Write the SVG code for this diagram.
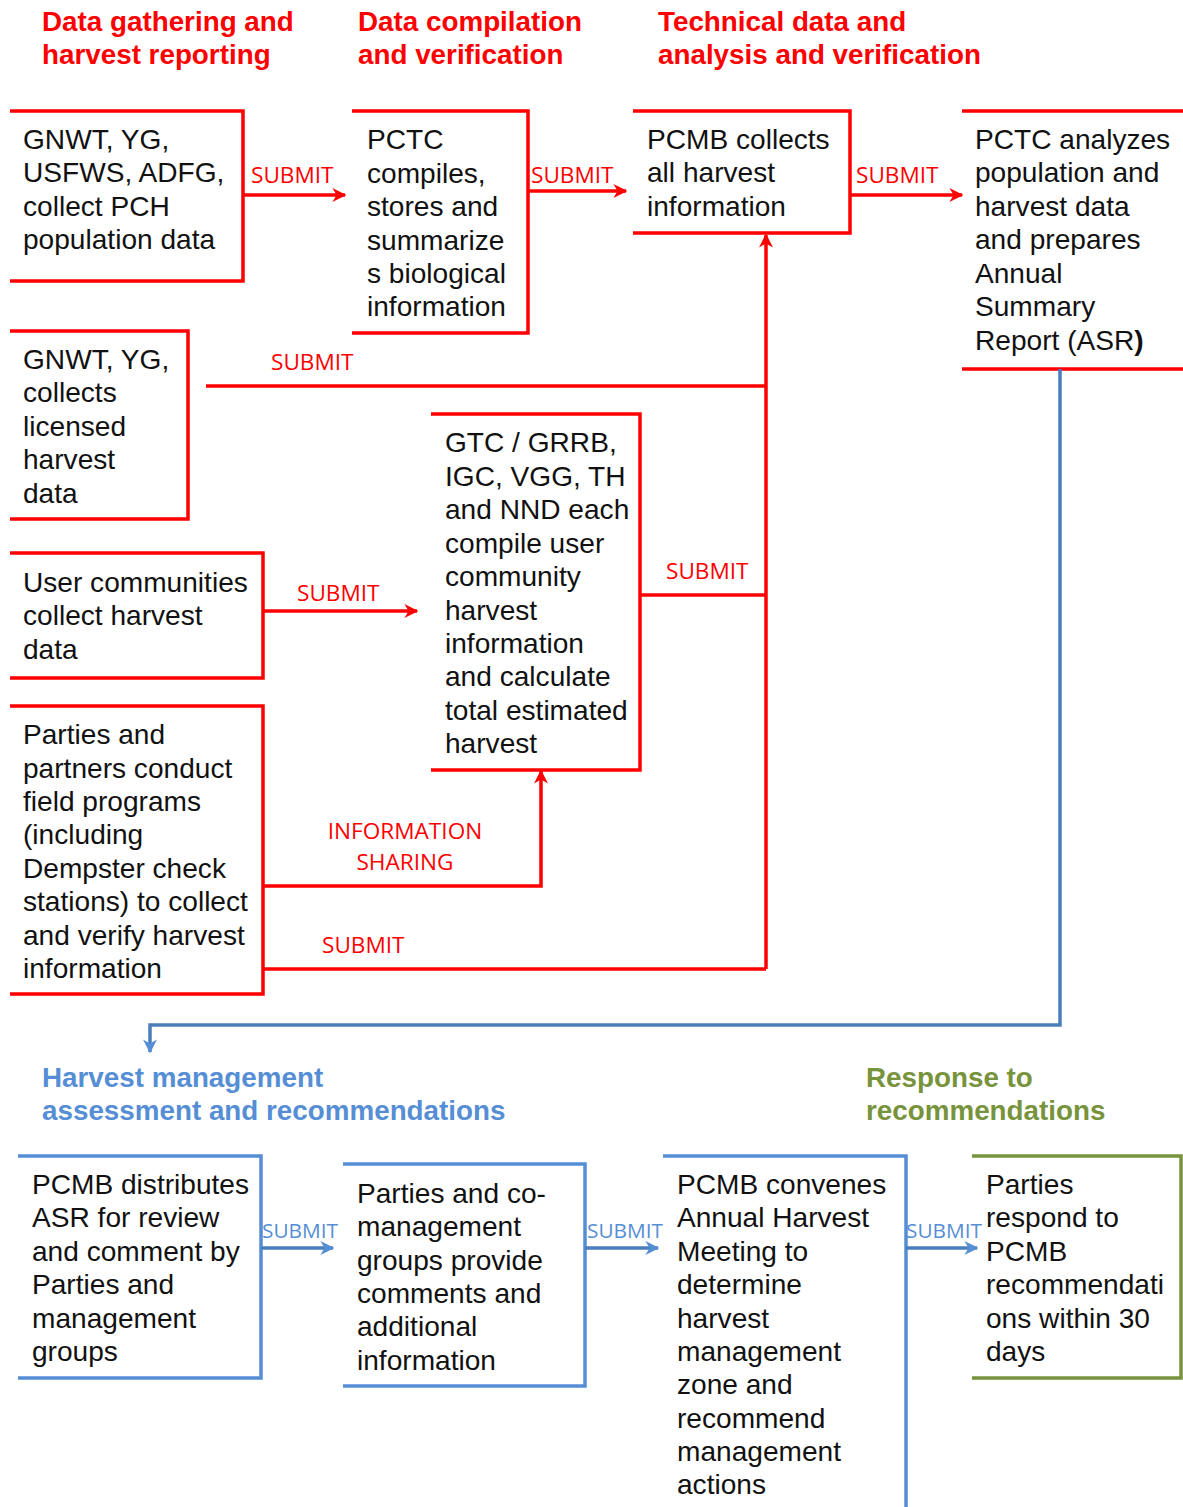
<svg xmlns="http://www.w3.org/2000/svg" width="1183" height="1507" viewBox="0 0 1183 1507">
<style>
.t{font-family:"Liberation Sans",Arial,sans-serif;font-size:28.1px;fill:#111}
.h{font-family:"Liberation Sans",Arial,sans-serif;font-size:27.8px;font-weight:bold}
.hr{fill:#ff0000}.hb{fill:#558ed5}.hg{fill:#77933c}
.rb{fill:none;stroke:#ff0000;stroke-width:3.5}
.bb{fill:none;stroke:#558ed5;stroke-width:3.5}
.gb{fill:none;stroke:#77933c;stroke-width:3.5}
.rc{fill:none;stroke:#ff0000;stroke-width:3.5}
.bc{fill:none;stroke:#4a7ebb;stroke-width:3.5}
.lr{font-family:"Open Sans","Liberation Sans",sans-serif;font-size:22.6px;fill:#ff0000}
.lb{font-family:"Open Sans","Liberation Sans",sans-serif;font-size:20.8px;fill:#558ed5}
</style>
<defs>
<marker id="ar" viewBox="0 0 10 10" refX="9" refY="5" markerWidth="4" markerHeight="4" orient="auto" markerUnits="strokeWidth"><path d="M0,0 L10,5 L0,10 L3,5 z" fill="#ff0000"/></marker>
<marker id="ab" viewBox="0 0 10 10" refX="9" refY="5" markerWidth="4" markerHeight="4" orient="auto" markerUnits="strokeWidth"><path d="M0,0 L10,5 L0,10 L3,5 z" fill="#558ed5"/></marker>
</defs>

<g id="headers">
<text class="h hr" x="42" y="31">Data gathering and</text>
<text class="h hr" x="42" y="64">harvest reporting</text>
<text class="h hr" x="358" y="31">Data compilation</text>
<text class="h hr" x="358" y="64">and verification</text>
<text class="h hr" x="658" y="31">Technical data and</text>
<text class="h hr" x="658" y="64">analysis and verification</text>
<text class="h hb" x="42" y="1087">Harvest management</text>
<text class="h hb" x="42" y="1120">assessment and recommendations</text>
<text class="h hg" x="866" y="1087">Response to</text>
<text class="h hg" x="866" y="1120">recommendations</text>
</g>

<g id="n1">
<path class="rb" d="M10,111 H243 V281 H10"/>
<text class="t" x="23" y="149">GNWT, YG,</text>
<text class="t" x="23" y="182">USFWS, ADFG,</text>
<text class="t" x="23" y="216">collect PCH</text>
<text class="t" x="23" y="249">population data</text>
</g>
<g id="n2">
<path class="rb" d="M352,111 H528 V333 H352"/>
<text class="t" x="367" y="149">PCTC</text>
<text class="t" x="367" y="183">compiles,</text>
<text class="t" x="367" y="216">stores and</text>
<text class="t" x="367" y="250">summarize</text>
<text class="t" x="367" y="283">s biological</text>
<text class="t" x="367" y="316">information</text>
</g>
<g id="n3">
<path class="rb" d="M633,111 H850 V233 H633"/>
<text class="t" x="647" y="149">PCMB collects</text>
<text class="t" x="647" y="182">all harvest</text>
<text class="t" x="647" y="216">information</text>
</g>
<g id="n4">
<path class="rb" d="M962,111 H1183 M1183,369 H962"/>
<text class="t" x="975" y="149">PCTC analyzes</text>
<text class="t" x="975" y="182">population and</text>
<text class="t" x="975" y="216">harvest data</text>
<text class="t" x="975" y="249">and prepares</text>
<text class="t" x="975" y="283">Annual</text>
<text class="t" x="975" y="316">Summary</text>
<text class="t" x="975" y="350">Report (ASR<tspan font-weight="bold">)</tspan></text>
</g>
<g id="n5">
<path class="rb" d="M10,331 H188 V519 H10"/>
<text class="t" x="23" y="369">GNWT, YG,</text>
<text class="t" x="23" y="402">collects</text>
<text class="t" x="23" y="436">licensed</text>
<text class="t" x="23" y="469">harvest</text>
<text class="t" x="23" y="503">data</text>
</g>
<g id="n6">
<path class="rb" d="M10,553 H263 V678 H10"/>
<text class="t" x="23" y="592">User communities</text>
<text class="t" x="23" y="625">collect harvest</text>
<text class="t" x="23" y="659">data</text>
</g>
<g id="n7">
<path class="rb" d="M431,414 H640 V770 H431"/>
<text class="t" x="445" y="452">GTC  / GRRB,</text>
<text class="t" x="445" y="486">IGC,  VGG, TH</text>
<text class="t" x="445" y="519">and NND each</text>
<text class="t" x="445" y="553">compile user</text>
<text class="t" x="445" y="586">community</text>
<text class="t" x="445" y="620">harvest</text>
<text class="t" x="445" y="653">information</text>
<text class="t" x="445" y="686">and calculate</text>
<text class="t" x="445" y="720">total estimated</text>
<text class="t" x="445" y="753">harvest</text>
</g>
<g id="n8">
<path class="rb" d="M10,706 H263 V994 H10"/>
<text class="t" x="23" y="744">Parties and</text>
<text class="t" x="23" y="778">partners conduct</text>
<text class="t" x="23" y="811">field programs</text>
<text class="t" x="23" y="844">(including</text>
<text class="t" x="23" y="878">Dempster check</text>
<text class="t" x="23" y="911">stations) to collect</text>
<text class="t" x="23" y="945">and verify  harvest</text>
<text class="t" x="23" y="978">information</text>
</g>

<g id="b1">
<path class="bb" d="M18,1156 H261 V1378 H18"/>
<text class="t" x="32" y="1194">PCMB distributes</text>
<text class="t" x="32" y="1227">ASR for review</text>
<text class="t" x="32" y="1261">and comment by</text>
<text class="t" x="32" y="1294">Parties and</text>
<text class="t" x="32" y="1328">management</text>
<text class="t" x="32" y="1361">groups</text>
</g>
<g id="b2">
<path class="bb" d="M343,1164 H585 V1386 H343"/>
<text class="t" x="357" y="1203">Parties and co-</text>
<text class="t" x="357" y="1236">management</text>
<text class="t" x="357" y="1270">groups provide</text>
<text class="t" x="357" y="1303">comments and</text>
<text class="t" x="357" y="1336">additional</text>
<text class="t" x="357" y="1370">information</text>
</g>
<g id="b3">
<path class="bb" d="M663,1156 H906 V1507"/>
<text class="t" x="677" y="1194">PCMB convenes</text>
<text class="t" x="677" y="1227">Annual Harvest</text>
<text class="t" x="677" y="1261">Meeting to</text>
<text class="t" x="677" y="1294">determine</text>
<text class="t" x="677" y="1328">harvest</text>
<text class="t" x="677" y="1361">management</text>
<text class="t" x="677" y="1394">zone and</text>
<text class="t" x="677" y="1428">recommend</text>
<text class="t" x="677" y="1461">management</text>
<text class="t" x="677" y="1494">actions</text>
</g>
<g id="b4">
<path class="gb" d="M972,1156 H1181 V1378 H972"/>
<text class="t" x="986" y="1194">Parties</text>
<text class="t" x="986" y="1227">respond to</text>
<text class="t" x="986" y="1261">PCMB</text>
<text class="t" x="986" y="1294">recommendati</text>
<text class="t" x="986" y="1328">ons within 30</text>
<text class="t" x="986" y="1361">days</text>
</g>

<g id="connectors">
<path class="rc" d="M243,195 H345" marker-end="url(#ar)"/>
<text class="lr" x="251" y="183">SUBMIT</text>
<path class="rc" d="M528,191 H626" marker-end="url(#ar)"/>
<text class="lr" x="531" y="183">SUBMIT</text>
<path class="rc" d="M850,195 H962" marker-end="url(#ar)"/>
<text class="lr" x="856" y="183">SUBMIT</text>
<path class="rc" d="M766,969 V235" marker-end="url(#ar)"/>
<path class="rc" d="M206,386 H766"/>
<text class="lr" x="271" y="370">SUBMIT</text>
<path class="rc" d="M640,595 H766"/>
<text class="lr" x="666" y="579">SUBMIT</text>
<path class="rc" d="M263,611 H417" marker-end="url(#ar)"/>
<text class="lr" x="297" y="601">SUBMIT</text>
<path class="rc" d="M263,886 H541 V771" marker-end="url(#ar)"/>
<text class="lr" x="405" y="839" text-anchor="middle">INFORMATION</text>
<text class="lr" x="405" y="870" text-anchor="middle">SHARING</text>
<path class="rc" d="M263,969 H766"/>
<text class="lr" x="322" y="953">SUBMIT</text>
<path class="bc" d="M1060,369 V1025 H150 V1052" marker-end="url(#ab)"/>
<path class="bc" d="M261,1248 H333" marker-end="url(#ab)"/>
<text class="lb" x="262" y="1238">SUBMIT</text>
<path class="bc" d="M585,1248 H658" marker-end="url(#ab)"/>
<text class="lb" x="587" y="1238">SUBMIT</text>
<path class="bc" d="M906,1248 H977" marker-end="url(#ab)"/>
<text class="lb" x="906" y="1238">SUBMIT</text>
</g>
</svg>
